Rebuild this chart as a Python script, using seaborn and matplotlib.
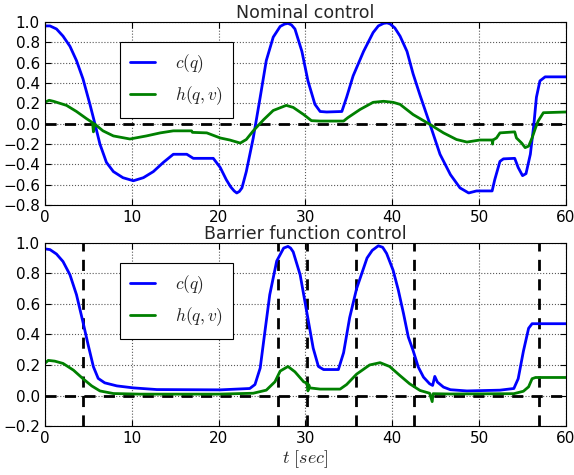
import numpy as np
import pandas as pd
import matplotlib
matplotlib.use("Agg")
import matplotlib.pyplot as plt
import seaborn as sns

# ---------------- data ----------------
t_c_nom = [0, 0.6, 1.35, 2.1, 2.9, 3.65, 4.4, 5.2, 5.8, 6.35, 7.1, 7.9, 9.0, 10.2, 11.35,
           12.5, 13.65, 14.8, 16.35, 17.1, 19.4, 20.2, 20.9, 21.4, 21.8, 22.1, 22.4, 22.7,
           23.2, 24.0, 24.8, 25.5, 26.3, 27.1, 27.6, 28.0, 28.4, 28.8, 29.6, 30.3, 31.1,
           31.7, 32.45, 34.2, 34.75, 35.5, 36.7, 37.8, 38.4, 39.0, 39.4, 39.75, 40.3, 40.9,
           41.7, 42.4, 43.2, 44.4, 45.5, 46.7, 47.8, 48.8, 49.7, 51.5, 51.8, 52.4, 52.8,
           54.1, 54.5, 55.0, 55.4, 55.9, 56.3, 56.6, 57.0, 57.6, 60]
c_nom = [0.96, 0.96, 0.93, 0.86, 0.76, 0.62, 0.44, 0.19, -0.01, -0.20, -0.38, -0.47, -0.53,
         -0.56, -0.53, -0.47, -0.38, -0.30, -0.30, -0.34, -0.34, -0.43, -0.55, -0.62, -0.66,
         -0.68, -0.665, -0.63, -0.47, -0.14, 0.26, 0.62, 0.85, 0.955, 0.978, 0.985, 0.97,
         0.93, 0.71, 0.42, 0.19, 0.12, 0.115, 0.12, 0.26, 0.47, 0.71, 0.895, 0.96, 0.985,
         0.99, 0.98, 0.94, 0.86, 0.71, 0.49, 0.28, -0.02, -0.30, -0.50, -0.63, -0.68, -0.66,
         -0.66, -0.55, -0.37, -0.345, -0.34, -0.43, -0.51, -0.49, -0.30, -0.01, 0.26, 0.42,
         0.46, 0.46]

t_h_nom = [0, 0.5, 1, 2.5, 3.65, 4.8, 5.5, 5.6, 5.7, 6.7, 7.9, 9.8, 11.7, 13.3, 14.8, 16.9,
           17.0, 18.65, 20.2, 21.3, 22.5, 23.2, 24.0, 25.2, 26.3, 27.8, 28.6, 29.8, 30.7,
           31.7, 34.4, 34.9, 36.3, 37.8, 39.0, 40.1, 40.9, 42.4, 43.2, 44.4, 45.9, 47.4,
           48.6, 50.1, 51.5, 51.55, 51.6, 52.0, 52.4, 54.1, 54.3, 54.9, 55.3, 55.7, 56.1,
           56.5, 56.8, 57.4, 60]
h_nom = [0.21, 0.23, 0.22, 0.18, 0.12, 0.05, 0.01, -0.08, 0.0, -0.07, -0.12, -0.15, -0.12,
         -0.09, -0.07, -0.07, -0.085, -0.09, -0.14, -0.16, -0.19, -0.155, -0.07, 0.04,
         0.13, 0.18, 0.16, 0.09, 0.03, 0.026, 0.026, 0.06, 0.14, 0.21, 0.22, 0.21, 0.19,
         0.09, 0.05, -0.01, -0.09, -0.155, -0.18, -0.16, -0.16, -0.20, -0.16, -0.14, -0.09,
         -0.08, -0.14, -0.19, -0.235, -0.22, -0.14, -0.04, 0.026, 0.108, 0.115]

t_c_bar = [0, 0.6, 1.35, 2.1, 2.9, 3.65, 4.4, 5.0, 5.6, 6.15, 6.9, 8.3, 10.2, 12.9, 20.2,
           23.6, 24.2, 24.8, 25.3, 25.9, 26.7, 27.5, 28.0, 28.3, 28.6, 29.4, 30.15, 30.9,
           31.5, 32.1, 33.8, 34.4, 35.1, 35.9, 37.1, 37.7, 38.4, 38.9, 39.35, 40.1, 40.7,
           41.3, 41.85, 42.4, 43.0, 43.6, 44.3, 44.65, 44.9, 45.2, 45.9, 46.7, 48.6, 52.4,
           54.0, 54.5, 55.1, 55.7, 56.1, 60]
c_bar = [0.96, 0.955, 0.926, 0.877, 0.79, 0.66, 0.48, 0.33, 0.188, 0.112, 0.083, 0.063,
         0.05, 0.039, 0.037, 0.046, 0.072, 0.18, 0.40, 0.66, 0.88, 0.965, 0.976, 0.965,
         0.94, 0.79, 0.55, 0.31, 0.19, 0.17, 0.17, 0.28, 0.51, 0.70, 0.90, 0.95, 0.98,
         0.97, 0.93, 0.82, 0.69, 0.536, 0.383, 0.295, 0.186, 0.12, 0.077, 0.066, 0.125,
         0.088, 0.055, 0.038, 0.03, 0.035, 0.046, 0.11, 0.29, 0.44, 0.47, 0.47]

t_h_bar = [0, 0.4, 1.15, 2.1, 3.3, 4.4, 5.4, 6.35, 7.9, 11, 20, 24, 25.5, 26.5, 27.1, 28.0,
           28.8, 29.8, 30.2, 30.3, 30.4, 30.5, 31.7, 34.0, 34.75, 35.9, 37.4, 38.6, 39.7,
           40.9, 42.0, 43.2, 44.3, 44.6, 44.7, 46.7, 54.0, 55.1, 55.7, 56.1, 56.5, 60]
h_bar = [0.21, 0.23, 0.225, 0.21, 0.166, 0.11, 0.063, 0.03, 0.013, 0.009, 0.009, 0.015,
         0.035, 0.09, 0.16, 0.19, 0.155, 0.09, 0.08, 0.03, 0.07, 0.05, 0.042, 0.042, 0.072,
         0.14, 0.20, 0.215, 0.19, 0.13, 0.077, 0.033, 0.015, -0.04, 0.012, 0.01, 0.012,
         0.028, 0.057, 0.11, 0.118, 0.118]

switch_times = [4.42, 26.9, 30.15, 35.8, 42.5, 56.95]

titles = ["Nominal control", "Barrier function control"]
labels = ["$c(q)$", "$h(q,v)$"]
x_ticks = [0, 10, 20, 30, 40, 50, 60]
y_ticks_top = [-0.8, -0.6, -0.4, -0.2, 0.0, 0.2, 0.4, 0.6, 0.8, 1.0]
y_ticks_bot = [-0.2, 0.0, 0.2, 0.4, 0.6, 0.8, 1.0]

# ---------------- style ----------------
sns.set_style("ticks", rc={
    "axes.edgecolor": "black",
    "axes.linewidth": 1.0,
    "axes.grid": True,
    "grid.color": "0.35",
    "grid.linestyle": ":",
    "grid.linewidth": 0.8,
    "xtick.direction": "in",
    "ytick.direction": "in",
    "xtick.top": True,
    "ytick.right": True,
})
plt.rcParams["font.family"] = ["DejaVu Sans"]
plt.rcParams["mathtext.fontset"] = "cm"

fig = plt.figure(figsize=(5.74, 4.75), dpi=100)
ax1 = fig.add_axes([0.078, 0.568, 0.908, 0.386])
ax2 = fig.add_axes([0.078, 0.103, 0.908, 0.386])

blue = (0, 0, 1)
green = (0, 0.5, 0)


def draw(ax, tc, c, th, h, title, yticks, ylim):
    dc = pd.DataFrame({"t": tc, "v": c})
    dh = pd.DataFrame({"t": th, "v": h})
    sns.lineplot(data=dc, x="t", y="v", ax=ax, color=blue, lw=2, label=labels[0],
                 estimator=None, sort=False)
    sns.lineplot(data=dh, x="t", y="v", ax=ax, color=green, lw=2, label=labels[1],
                 estimator=None, sort=False)
    ax.axhline(0, color="black", lw=2, ls=(0, (4, 3)), zorder=1)
    ax.set_xlim(0, 60)
    ax.set_ylim(*ylim)
    ax.set_xticks(x_ticks)
    ax.set_yticks(yticks)
    ax.set_yticklabels([f"{v:.1f}".replace("-", "\u2212") for v in yticks])
    ax.tick_params(labelsize=11, length=4, width=0.8, colors="black")
    ax.set_title(title, fontsize=12.5, pad=2)
    ax.set_ylabel("")
    ax.set_xlabel("")
    leg = ax.legend(loc="upper left", bbox_to_anchor=(0.144, 0.89), borderaxespad=0,
                    fontsize=12.5, handlelength=1.45, borderpad=0.6, labelspacing=0.55,
                    handletextpad=1.1, fancybox=False, framealpha=1, edgecolor="black")
    leg.get_frame().set_linewidth(0.8)
    for s in ax.spines.values():
        s.set_visible(True)


draw(ax1, t_c_nom, c_nom, t_h_nom, h_nom, titles[0], y_ticks_top, (-0.8, 1.0))
draw(ax2, t_c_bar, c_bar, t_h_bar, h_bar, titles[1], y_ticks_bot, (-0.2, 1.0))
for ts in switch_times:
    ax2.axvline(ts, color="black", lw=2, ls=(0, (4, 3)), zorder=1)
ax2.set_xlabel("$t\\ [sec]$", fontsize=13, labelpad=2)

fig.savefig("out.png", dpi=100)
